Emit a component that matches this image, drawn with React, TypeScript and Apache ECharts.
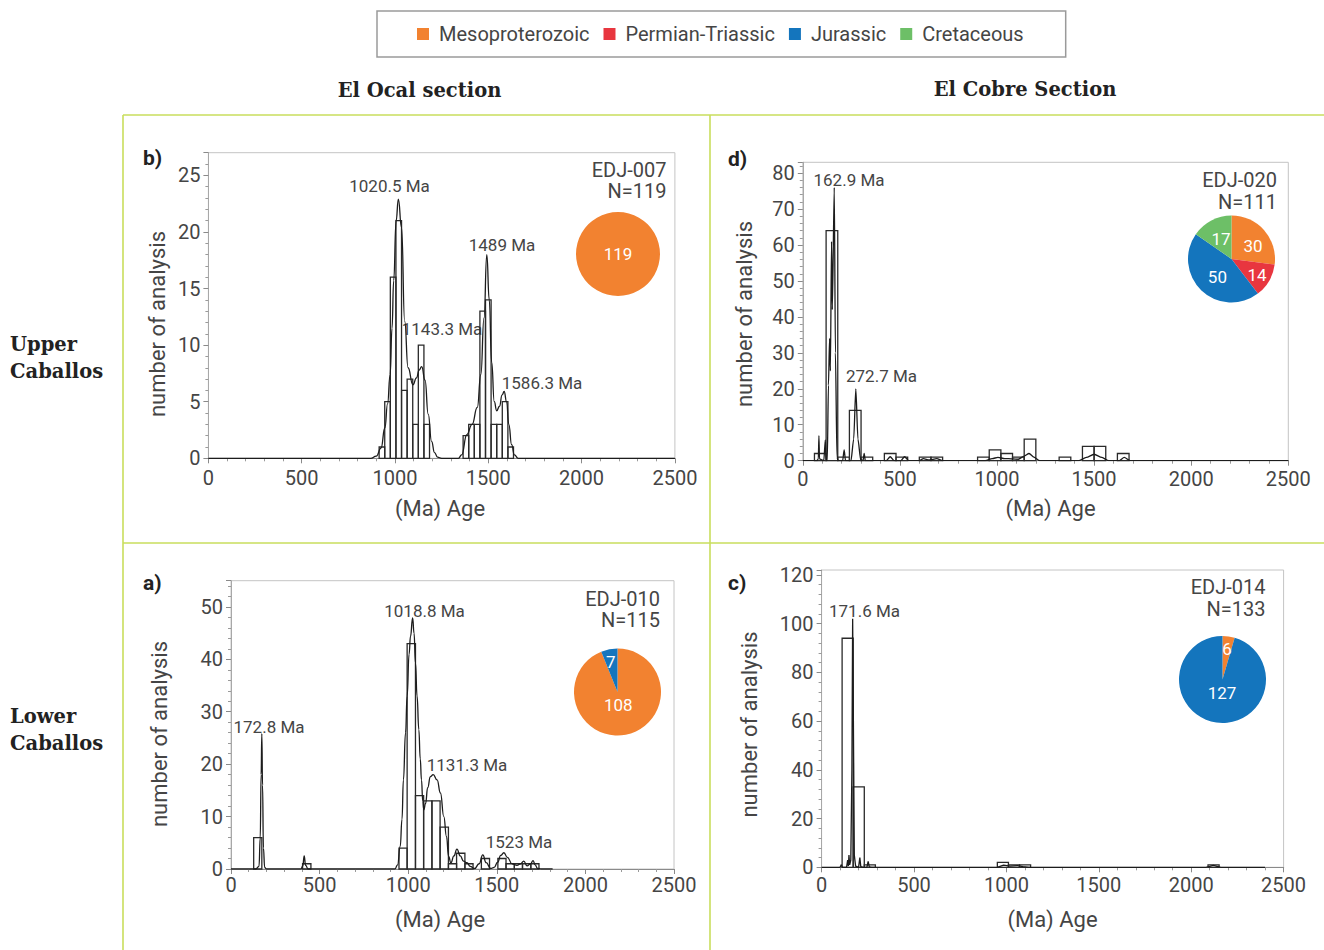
import React, { useEffect, useRef } from "react";
import * as echarts from "echarts";

// ---------- data ----------
const groupNames = ["Mesoproterozoic", "Permian-Triassic", "Jurassic", "Cretaceous"];
const groupColors: Record<string, string> = {
  Mesoproterozoic: "#f28230",
  "Permian-Triassic": "#e8363f",
  Jurassic: "#1475bd",
  Cretaceous: "#6dbf67",
};

// histogram bins: [start age, end age, count]
const histB = [
  [915, 945, 1], [945, 975, 5], [975, 1005, 16], [1005, 1035, 21], [1035, 1065, 6],
  [1065, 1095, 7], [1095, 1125, 3], [1125, 1155, 10], [1155, 1185, 3],
  [1365, 1395, 2], [1395, 1425, 3], [1425, 1455, 3], [1455, 1485, 13], [1485, 1515, 14],
  [1515, 1545, 3], [1545, 1575, 3], [1575, 1605, 5], [1605, 1635, 1],
];
const histD = [
  [60, 120, 2], [120, 180, 64], [180, 240, 1], [240, 300, 14], [300, 360, 1],
  [420, 480, 2], [480, 540, 1], [600, 660, 1], [660, 720, 1],
  [900, 960, 1], [960, 1020, 3], [1020, 1080, 2], [1080, 1140, 1], [1140, 1200, 6],
  [1320, 1380, 1], [1440, 1500, 4], [1500, 1560, 4], [1620, 1680, 2],
];
const histA = [
  [128, 174, 6], [404, 451, 1], [948, 994, 4], [994, 1041, 43], [1041, 1087, 14],
  [1087, 1134, 13], [1134, 1180, 13], [1180, 1227, 8], [1227, 1273, 1], [1273, 1320, 3],
  [1320, 1366, 1], [1413, 1459, 2], [1506, 1552, 2], [1552, 1599, 1], [1599, 1645, 1],
  [1645, 1692, 1], [1692, 1738, 1],
];
const histC = [
  [111, 171, 94], [171, 231, 33], [231, 291, 1], [951, 1011, 2], [1011, 1071, 1],
  [1071, 1131, 1], [2091, 2151, 1],
];

// probability density curves: [age, value]
const kdeB = [
  [0, 0], [870, 0], [900, 0.2], [925, 0.9], [946, 2.7], [960, 4.8], [974, 7.4], [984, 11.5],
  [993, 15.7], [1006, 21], [1018, 22.9], [1035, 20.4], [1052, 12.1], [1070, 8], [1096, 6.5],
  [1115, 7.1], [1130, 7.8], [1143, 8.1], [1161, 6.9], [1178, 3.9], [1196, 1.5], [1212, 0.5],
  [1228, 0.1], [1250, 0], [1340, 0], [1357, 0.3], [1385, 2.1], [1413, 3], [1441, 4.5],
  [1460, 7.4], [1477, 12.4], [1492, 18], [1505, 14], [1518, 8.5], [1532, 5], [1545, 4.2],
  [1560, 4.6], [1574, 5.6], [1585, 5.9], [1598, 5], [1610, 3], [1625, 1.2], [1640, 0.3],
  [1660, 0], [2500, 0],
];
const kdeD = [
  [0, 0], [72, 0], [80, 0.5], [83, 7], [86, 0.5], [108, 0], [116, 5.8], [120, 0.3], [126, 0],
  [132, 21], [138, 34], [142, 25], [148, 61], [152, 42], [162, 76], [168, 30], [176, 1],
  [182, 0], [205, 0], [213, 3], [220, 0], [248, 0], [262, 6], [273, 20], [284, 6], [298, 0.3],
  [310, 0], [316, 2], [322, 0], [430, 0], [450, 1.1], [470, 0], [505, 0], [524, 1.1], [545, 0],
  [600, 0], [621, 0.6], [650, 0.2], [690, 0.6], [720, 0], [940, 0], [975, 0.6], [1005, 0.9],
  [1040, 0.6], [1080, 0.5], [1110, 0.4], [1140, 1.3], [1165, 2], [1190, 1], [1220, 0],
  [1420, 0], [1460, 0.9], [1500, 1.8], [1540, 0.9], [1575, 0], [1630, 0], [1655, 0.9],
  [1685, 0], [2500, 0],
];
const kdeA = [
  [0, 0], [140, 0], [158, 0.5], [165, 6], [170, 18], [174, 25.8], [178, 16], [183, 4],
  [190, 0.3], [200, 0], [395, 0], [405, 0.6], [413, 2.5], [421, 0.7], [435, 0], [925, 0],
  [940, 0.8], [955, 4.3], [965, 9.5], [973, 17], [985, 26], [994, 33], [1005, 41],
  [1013, 44.4], [1025, 47.9], [1033, 45], [1041, 39.3], [1050, 33], [1060, 26.6], [1068, 21],
  [1075, 17], [1082, 13], [1088, 11.3], [1098, 12.5], [1110, 15.5], [1125, 17.6], [1141, 18],
  [1163, 17], [1182, 14.5], [1201, 10], [1216, 6.2], [1228, 2.4], [1241, 1.2], [1258, 2.5],
  [1275, 3.8], [1294, 2.5], [1312, 1.5], [1331, 1.2], [1350, 0.5], [1375, 0.1], [1400, 1],
  [1421, 2.7], [1440, 1.2], [1465, 0.1], [1485, 0.3], [1505, 1.3], [1522, 2.6], [1540, 3.1],
  [1560, 2.2], [1586, 1], [1614, 0.7], [1635, 1], [1652, 1.5], [1671, 0.6], [1690, 1],
  [1705, 1.6], [1716, 0.8], [1730, 0.1], [1750, 0], [1815, 0],
];
const kdeC = [
  [0, 0], [100, 0], [107, 1.1], [112, 0], [135, 0], [141, 3], [145, 0.5], [148, 5], [152, 1],
  [158, 3], [164, 40], [168, 102], [172, 60], [177, 5], [184, 0.5], [200, 0], [207, 4],
  [212, 0.3], [225, 0], [245, 0], [252, 2.4], [258, 0.2], [270, 0], [950, 0], [985, 0.9],
  [1020, 0.5], [1060, 0.7], [1090, 0.3], [1120, 0], [2080, 0], [2120, 0.8], [2160, 0],
  [2400, 0],
];

// pie composition
const pieB = [{ name: "Mesoproterozoic", value: 119 }];
const pieD = [
  { name: "Mesoproterozoic", value: 30 },
  { name: "Permian-Triassic", value: 14 },
  { name: "Jurassic", value: 50 },
  { name: "Cretaceous", value: 17 },
];
const pieA = [
  { name: "Mesoproterozoic", value: 108 },
  { name: "Jurassic", value: 7 },
];
const pieC = [
  { name: "Mesoproterozoic", value: 6 },
  { name: "Jurassic", value: 127 },
];

const xTicks = { min: 0, max: 2500, interval: 500 };

// ---------- layout ----------
const SANS = "Roboto, 'Noto Sans', sans-serif";
const SERIF = "'DejaVu Serif', serif";
const TXT = "#454545";
const GREEN = "#c9de5c";

const panels = [
  {
    hist: histB, kde: kdeB, pie: pieB, yMax: 27, yInt: 5,
    grid: { left: 208.4, top: 152.7, width: 466.5, height: 305.6 },
    xMargin: 10, smooth: 0.5, pieCenter: [618, 254], pieR: 42, pieLabelPos: "center",
    labelShift: [[0, 0]],
  },
  {
    hist: histD, kde: kdeD, pie: pieD, yMax: 83, yInt: 10,
    grid: { left: 802.8, top: 162.3, width: 485.5, height: 298.4 },
    xMargin: 8, smooth: 0.25, pieCenter: [1231.5, 259], pieR: 43.5, pieLabelPos: "inside",
    labelShift: [[3, 3], [4, 4], [3, 0], [1, 2]],
  },
  {
    hist: histA, kde: kdeA, pie: pieA, yMax: 55, yInt: 10,
    grid: { left: 231, top: 580.7, width: 443, height: 288.3 },
    xMargin: 6, smooth: 0.5, pieCenter: [617.5, 692], pieR: 43.5, pieLabelPos: "inside",
    labelShift: [[-4, -11], [-2, -6]],
  },
  {
    hist: histC, kde: kdeC, pie: pieC, yMax: 122, yInt: 20,
    grid: { left: 821.6, top: 570, width: 462, height: 297.3 },
    xMargin: 8, smooth: false, pieCenter: [1222.5, 679.5], pieR: 43.5, pieLabelPos: "inside",
    labelShift: [[1, -6], [3, -11]],
  },
];

const textEl = (text: string, x: number, y: number, o: any = {}) => ({
  type: "text",
  x,
  y,
  rotation: o.rotation || 0,
  silent: true,
  style: {
    text,
    fill: o.color || TXT,
    fontSize: o.size || 17,
    fontFamily: o.family || SANS,
    fontWeight: o.weight || "normal",
    align: o.align || "center",
    verticalAlign: "middle",
  },
});

const lineEl = (x1: number, y1: number, x2: number, y2: number) => ({
  type: "line",
  silent: true,
  shape: { x1, y1, x2, y2 },
  style: { stroke: GREEN, lineWidth: 1.6 },
});

function buildOption() {
  const grids: any[] = [];
  const xAxes: any[] = [];
  const yAxes: any[] = [];
  const series: any[] = [];

  panels.forEach((p, i) => {
    grids.push({ ...p.grid, show: true, borderColor: "#c4c4c4", borderWidth: 1 });
    xAxes.push({
      type: "value",
      gridIndex: i,
      min: xTicks.min,
      max: xTicks.max,
      interval: xTicks.interval,
      axisLine: { show: true, lineStyle: { color: "#8a8a8a", width: 1.2 } },
      axisTick: { show: true, length: 5, lineStyle: { color: "#8a8a8a" } },
      minorTick: { show: true, splitNumber: 5, length: 3, lineStyle: { color: "#9a9a9a" } },
      splitLine: { show: false },
      axisLabel: {
        fontSize: 20,
        color: TXT,
        fontFamily: SANS,
        margin: p.xMargin,
        formatter: (v: number) => String(v),
      },
    });
    yAxes.push({
      type: "value",
      gridIndex: i,
      min: 0,
      max: p.yMax,
      interval: p.yInt,
      axisLine: { show: true, lineStyle: { color: "#a8a8a8", width: 1 } },
      axisTick: { show: true, length: 5, lineStyle: { color: "#8a8a8a" } },
      minorTick: { show: true, splitNumber: 5, length: 3, lineStyle: { color: "#9a9a9a" } },
      splitLine: { show: false },
      axisLabel: {
        fontSize: 20,
        color: TXT,
        fontFamily: SANS,
        margin: 8,
        showMaxLabel: false,
        formatter: (v: number) => String(v),
      },
    });
    series.push({
      type: "custom",
      xAxisIndex: i,
      yAxisIndex: i,
      silent: true,
      z: 2,
      encode: { x: [0, 1], y: 2 },
      data: p.hist,
      renderItem: (_params: any, api: any) => {
        const a = api.coord([api.value(0), api.value(2)]);
        const b = api.coord([api.value(1), 0]);
        return {
          type: "rect",
          shape: { x: a[0], y: a[1], width: b[0] - a[0], height: b[1] - a[1] },
          style: { fill: "none", stroke: "#2a2a2a", lineWidth: 1.3 },
        };
      },
    });
    series.push({
      type: "line",
      xAxisIndex: i,
      yAxisIndex: i,
      silent: true,
      z: 3,
      data: p.kde,
      showSymbol: false,
      smooth: p.smooth,
      smoothMonotone: "x",
      lineStyle: { color: "#1c1c1c", width: 1.3 },
    });
    const shifts = p.labelShift;
    series.push({
      type: "pie",
      silent: true,
      center: p.pieCenter,
      radius: p.pieR,
      startAngle: 90,
      clockwise: true,
      data: p.pie.map((d) => ({ ...d, itemStyle: { color: groupColors[d.name] } })),
      label: {
        show: true,
        position: p.pieLabelPos,
        formatter: "{c}",
        color: "#ffffff",
        fontSize: 17,
        fontFamily: SANS,
      },
      labelLayout: (params: any) => {
        const s = shifts[params.dataIndex] || [0, 0];
        return { dx: s[0], dy: s[1] };
      },
      labelLine: { show: false },
      itemStyle: { borderWidth: 0 },
      emphasis: { disabled: true },
    });
  });

  const graphics: any[] = [
    lineEl(123, 115, 1324, 115),
    lineEl(123, 543, 1324, 543),
    lineEl(123, 115, 123, 950),
    lineEl(710, 115, 710, 950),
    textEl("El Ocal section", 419.5, 90, { family: SERIF, weight: "bold", size: 19.5, color: "#222" }),
    textEl("El Cobre Section", 1025, 89, { family: SERIF, weight: "bold", size: 19.5, color: "#222" }),
    textEl("Upper", 10, 344, { family: SERIF, weight: "bold", size: 19.5, color: "#222", align: "left" }),
    textEl("Caballos", 10, 371, { family: SERIF, weight: "bold", size: 19.5, color: "#222", align: "left" }),
    textEl("Lower", 10, 716, { family: SERIF, weight: "bold", size: 19.5, color: "#222", align: "left" }),
    textEl("Caballos", 10, 743, { family: SERIF, weight: "bold", size: 19.5, color: "#222", align: "left" }),
    // panel letters
    textEl("b)", 143, 158, { weight: "bold", size: 21, color: "#222", align: "left" }),
    textEl("d)", 728, 159, { weight: "bold", size: 21, color: "#222", align: "left" }),
    textEl("a)", 143, 583, { weight: "bold", size: 21, color: "#222", align: "left" }),
    textEl("c)", 728, 583, { weight: "bold", size: 21, color: "#222", align: "left" }),
    // axis titles
    textEl("number of analysis", 157.6, 324, { size: 22, rotation: Math.PI / 2 }),
    textEl("number of analysis", 744.5, 314, { size: 22, rotation: Math.PI / 2 }),
    textEl("number of analysis", 159.5, 734, { size: 22, rotation: Math.PI / 2 }),
    textEl("number of analysis", 749, 724.5, { size: 22, rotation: Math.PI / 2 }),
    textEl("(Ma) Age", 440, 508.5, { size: 22 }),
    textEl("(Ma) Age", 1050.5, 508.5, { size: 22 }),
    textEl("(Ma) Age", 440, 919, { size: 22 }),
    textEl("(Ma) Age", 1052.5, 919, { size: 22 }),
    // sample names
    textEl("EDJ-007", 666.5, 169.5, { size: 20, align: "right" }),
    textEl("N=119", 666.5, 191, { size: 20, align: "right" }),
    textEl("EDJ-020", 1277, 180, { size: 20, align: "right" }),
    textEl("N=111", 1277, 201.5, { size: 20, align: "right" }),
    textEl("EDJ-010", 660, 598.5, { size: 20, align: "right" }),
    textEl("N=115", 660, 620, { size: 20, align: "right" }),
    textEl("EDJ-014", 1265.5, 587, { size: 20, align: "right" }),
    textEl("N=133", 1265.5, 608.5, { size: 20, align: "right" }),
    // peak ages
    textEl("1020.5 Ma", 389.5, 186, { size: 17 }),
    textEl("1489 Ma", 502, 245, { size: 17 }),
    textEl("1143.3 Ma", 442, 329, { size: 17 }),
    textEl("1586.3 Ma", 542, 383, { size: 17 }),
    textEl("162.9 Ma", 849, 180, { size: 17 }),
    textEl("272.7 Ma", 881.5, 376, { size: 17 }),
    textEl("1018.8 Ma", 424.5, 611, { size: 17 }),
    textEl("172.8 Ma", 269, 727, { size: 17 }),
    textEl("1131.3 Ma", 467, 765, { size: 17 }),
    textEl("1523 Ma", 519, 842, { size: 17 }),
    textEl("171.6 Ma", 864.5, 611, { size: 17 }),
  ];

  return {
    animation: false,
    backgroundColor: "#ffffff",
    legend: {
      data: groupNames,
      left: 377,
      top: 11,
      orient: "horizontal",
      padding: [13, 42, 13, 40],
      itemGap: 14,
      itemWidth: 12,
      itemHeight: 12,
      icon: "rect",
      selectedMode: false,
      borderColor: "#9a9a9a",
      borderWidth: 1.5,
      textStyle: { fontSize: 20, color: TXT, fontFamily: SANS, padding: [0, 0, 0, 5] },
    },
    grid: grids,
    xAxis: xAxes,
    yAxis: yAxes,
    series,
    graphic: graphics,
  };
}

export default function App() {
  const ref = useRef<HTMLDivElement>(null);
  useEffect(() => {
    if (!ref.current) return;
    const chart = echarts.init(ref.current, null, { renderer: "svg" });
    chart.setOption(buildOption() as any);
    return () => chart.dispose();
  }, []);
  return (
    <div
      ref={ref}
      style={{ position: "absolute", left: 0, top: 0, width: 1324, height: 950, background: "#fff" }}
    />
  );
}
